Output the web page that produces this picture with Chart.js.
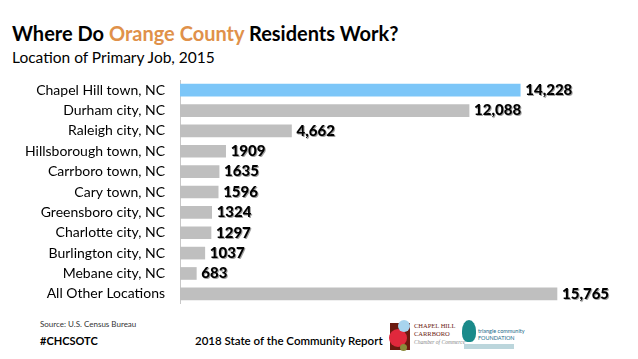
<!DOCTYPE html>
<html><head><meta charset="utf-8">
<script src="https://cdn.jsdelivr.net/npm/chart.js@4"></script>
<style>
html,body{margin:0;padding:0;background:#fff;width:638px;height:359px;overflow:hidden;font-family:Lato,"Open Sans",sans-serif;}
#title{position:absolute;left:12px;top:21px;font-size:20px;font-weight:bold;color:#000;white-space:nowrap;}
#title span{color:#e0914a;}
#sub{position:absolute;left:12px;top:48px;font-size:15.5px;color:#000;}
#c{position:absolute;left:0;top:80px;}
#src{position:absolute;left:40px;top:319px;font-size:8px;color:#333;}
#tag{position:absolute;left:40px;top:334px;font-size:11px;font-weight:bold;color:#000;}
#rep{position:absolute;left:195px;top:334px;font-size:11.5px;color:#000;font-weight:600;}
.lg{position:absolute;white-space:nowrap;}
</style></head><body>
<div id="title">Where Do <span>Orange County</span> Residents Work?</div>
<div id="sub">Location of Primary Job, 2015</div>
<canvas id="c" width="638" height="224"></canvas>
<div id="src">Source: U.S. Census Bureau</div>
<div id="tag">#CHCSOTC</div>
<div id="rep">2018 State of the Community Report</div>
<div class="lg" style="left:390px;top:323px;width:20px;height:27px;background:#6b1a10;"></div>
<div class="lg" style="left:389px;top:329px;width:18px;height:18px;border-radius:50%;background:#e0283c;"></div>
<div class="lg" style="left:398px;top:320px;width:12px;height:12px;border-radius:50%;background:#a8d4ee;"></div>
<div class="lg" style="left:400px;top:344px;width:7px;height:7px;border-radius:50%;background:#8a8a3a;"></div>
<div class="lg" style="left:414px;top:322px;font-size:6.5px;line-height:8px;color:#6b1a10;font-family:'Liberation Serif',serif;">CHAPEL HILL<br>CARRBORO<br><i style="color:#888;font-size:5.5px">Chamber of Commerce</i></div>
<div class="lg" style="left:462px;top:320px;width:14px;height:22px;border-radius:50% 50% 40% 40%;background:#1a8a8a;"></div>
<div class="lg" style="left:478px;top:328px;font-size:5.5px;line-height:7px;color:#1a6a8a;">triangle community<br>FOUNDATION</div>
<div class="lg" style="left:464px;top:344px;width:50px;height:5px;background:#bcd6dc;"></div>
<script>
const categories = ["Chapel Hill town, NC","Durham city, NC","Raleigh city, NC","Hillsborough town, NC","Carrboro town, NC","Cary town, NC","Greensboro city, NC","Charlotte city, NC","Burlington city, NC","Mebane city, NC","All Other Locations"];
const values = [14228,12088,4662,1909,1635,1596,1324,1297,1037,683,15765];
const valueLabels = ["14,228","12,088","4,662","1909","1635","1596","1324","1297","1037","683","15,765"];
const barColors = ["#7cc6f8","#bfbfbf","#bfbfbf","#bfbfbf","#bfbfbf","#bfbfbf","#bfbfbf","#bfbfbf","#bfbfbf","#bfbfbf","#bfbfbf"];

const labelPlugin = {
  id:'vals',
  afterDatasetsDraw(chart){
    const ctx = chart.ctx;
    const meta = chart.getDatasetMeta(0);
    ctx.save();
    ctx.font = "900 15px Lato, 'Open Sans', sans-serif";
    ctx.textBaseline = 'middle';
    ctx.textAlign = 'left';
    meta.data.forEach((bar,i)=>{
      ctx.fillStyle = '#a0a0a0';
      ctx.fillText(valueLabels[i], bar.x+6, bar.y+1);
      ctx.fillStyle = '#000';
      ctx.fillText(valueLabels[i], bar.x+5, bar.y);
    });
    ctx.restore();
  }
};

new Chart(document.getElementById('c'),{
  type:'bar',
  data:{labels:categories,datasets:[{data:values,backgroundColor:barColors,barThickness:12}]},
  options:{
    indexAxis:'y',
    responsive:false,maintainAspectRatio:false,animation:false,
    layout:{padding:{left:0,right:18,top:0,bottom:0}},
    plugins:{legend:{display:false},tooltip:{enabled:false}},
    scales:{
      x:{display:false,min:0,max:18400},
      y:{
        afterFit(s){s.width=180;s.paddingTop=0;s.paddingBottom=0;},
        grid:{display:false,drawTicks:false},
        border:{display:true,color:'#c8c8c8',width:1},
        ticks:{color:'#000',padding:15,font:{family:"Lato, 'Open Sans', sans-serif",size:14}}
      }
    }
  },
  plugins:[labelPlugin]
});
</script>
</body></html>
